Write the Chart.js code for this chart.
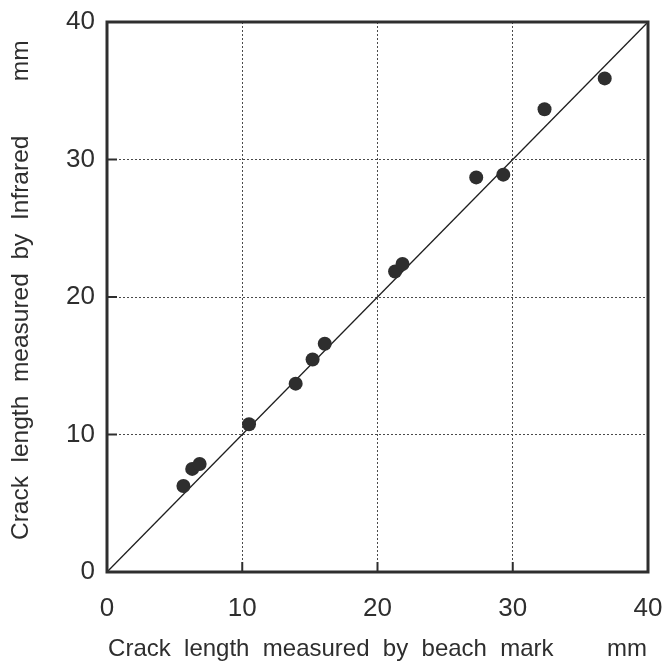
<!DOCTYPE html>
<html>
<head>
<meta charset="utf-8">
<script src="https://cdn.jsdelivr.net/npm/chart.js@4/dist/chart.umd.min.js"></script>
<style>
  html, body { margin: 0; padding: 0; background: #ffffff; }
  #wrap { width: 665px; height: 664px; }
</style>
</head>
<body>
<div id="wrap"><canvas id="c" width="665" height="664"></canvas></div>
<script>
// ---- data ----
const beachMark = [5.65, 6.3, 6.85, 10.5, 13.95, 15.2, 16.1, 21.3, 21.85, 27.3, 29.3, 32.35, 36.8];
const infrared  = [6.25, 7.5, 7.85, 10.75, 13.7, 15.45, 16.6, 21.85, 22.4, 28.7, 28.9, 33.65, 35.9];
const refLineX  = [0, 40];
const refLineY  = [0, 40];
const axisMin = 0, axisMax = 40, axisStep = 10;
const xTitle = 'Crack  length  measured  by  beach  mark        mm';
const yTitle = '  Crack  length  measured  by  Infrared        mm';

const FONT = '"Liberation Sans", Arial, Helvetica, sans-serif';
const INK = '#2e2e2e';

const points = beachMark.map((x, i) => ({ x: x, y: infrared[i] }));
const line = refLineX.map((x, i) => ({ x: x, y: refLineY[i] }));

const framePlugin = {
  id: 'frame',
  afterDraw(chart) {
    const { ctx, chartArea: a, scales } = chart;
    ctx.save();
    ctx.strokeStyle = INK;
    ctx.lineWidth = 2;
    const tl = 10;
    scales.x.ticks.forEach(t => {
      if (t.value <= axisMin || t.value >= axisMax) return;
      const px = scales.x.getPixelForValue(t.value);
      ctx.beginPath(); ctx.moveTo(px, a.bottom); ctx.lineTo(px, a.bottom - tl); ctx.stroke();
    });
    scales.y.ticks.forEach(t => {
      if (t.value <= axisMin || t.value >= axisMax) return;
      const py = scales.y.getPixelForValue(t.value);
      ctx.beginPath(); ctx.moveTo(a.left, py); ctx.lineTo(a.left + tl, py); ctx.stroke();
    });
    ctx.lineWidth = 3;
    ctx.strokeRect(a.left, a.top, a.right - a.left, a.bottom - a.top);
    ctx.restore();
  }
};

const gridColor = (c) => (c.tick && (c.tick.value === axisMin || c.tick.value === axisMax)) ? 'rgba(0,0,0,0)' : '#4a4a4a';

new Chart(document.getElementById('c'), {
  type: 'scatter',
  data: {
    datasets: [
      {
        label: 'points',
        data: points,
        pointRadius: 7,
        pointHoverRadius: 7,
        pointBackgroundColor: INK,
        pointBorderColor: INK,
        pointBorderWidth: 0,
        order: 1
      },
      {
        type: 'line',
        label: 'y = x',
        data: line,
        borderColor: '#1e1e1e',
        borderWidth: 1.3,
        pointRadius: 0,
        fill: false,
        order: 2
      }
    ]
  },
  options: {
    responsive: false,
    animation: false,
    events: [],
    layout: { padding: { top: 22, right: 17, bottom: 0, left: 0 } },
    plugins: { legend: { display: false }, tooltip: { enabled: false } },
    scales: {
      x: {
        type: 'linear',
        min: axisMin, max: axisMax,
        afterFit(s) { s.height = 92; s.paddingLeft = 0; s.paddingRight = 0; },
        ticks: { stepSize: axisStep, padding: 21, color: INK, font: { family: FONT, size: 26 } },
        grid: { color: gridColor, lineWidth: 1, drawTicks: false },
        border: { display: false, dash: [2, 2] },
        title: { display: true, text: xTitle, color: INK, font: { family: FONT, size: 24 }, padding: { top: 0, bottom: 0 } }
      },
      y: {
        type: 'linear',
        min: axisMin, max: axisMax,
        afterFit(s) { s.width = 107; s.paddingTop = 0; s.paddingBottom = 0; },
        ticks: { stepSize: axisStep, padding: 12, color: INK, font: { family: FONT, size: 26 } },
        grid: { color: gridColor, lineWidth: 1, drawTicks: false },
        border: { display: false, dash: [2, 2] },
        title: { display: true, text: yTitle, color: INK, font: { family: FONT, size: 24.5 }, padding: { top: 7, bottom: 0 } }
      }
    }
  },
  plugins: [framePlugin]
});
</script>
</body>
</html>
